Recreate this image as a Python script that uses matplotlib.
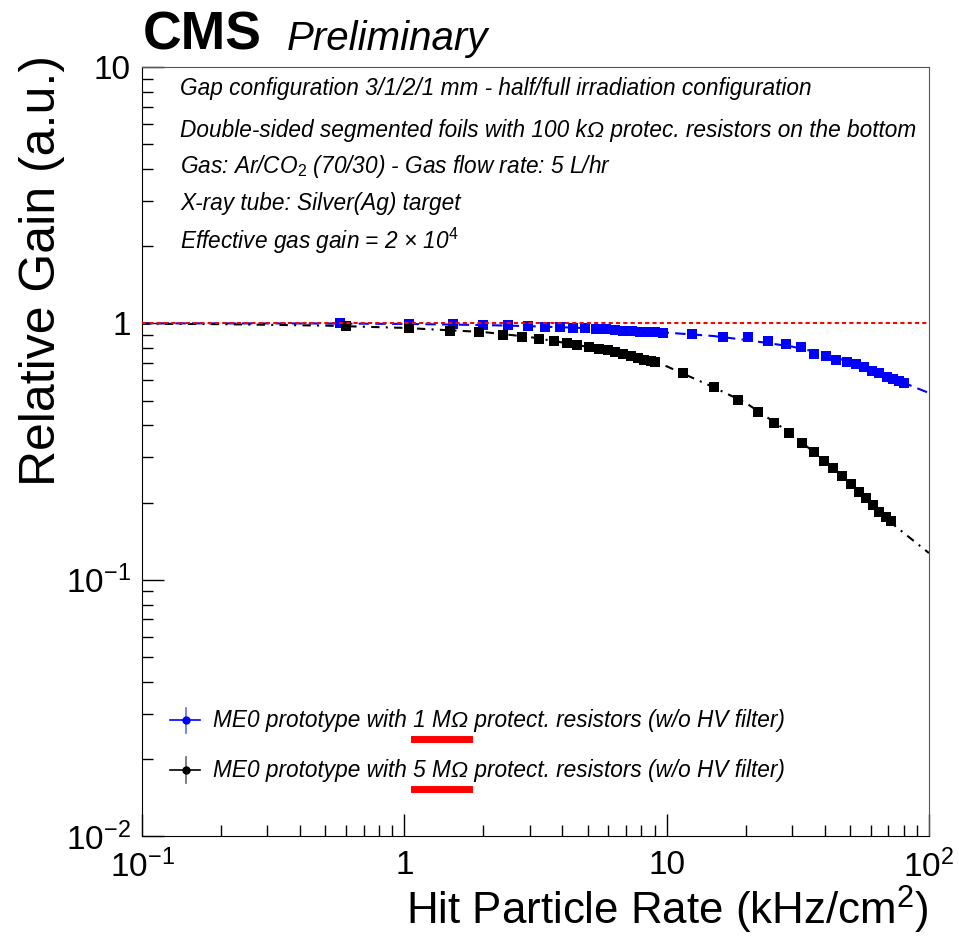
import numpy as np
import matplotlib
matplotlib.use("Agg")
import matplotlib.pyplot as plt
from matplotlib.text import Text

plt.rcParams['font.family'] = ['Liberation Sans', 'DejaVu Sans']
plt.rcParams['mathtext.fontset'] = 'custom'
plt.rcParams['mathtext.rm'] = 'Liberation Sans'
plt.rcParams['mathtext.it'] = 'Liberation Sans:italic'

# ---- data ----
# 1 MOhm protection resistors (blue)
rate_1m = [0.57, 1.04, 1.53, 2.0, 2.49, 2.96, 3.44, 3.92, 4.40, 4.89, 5.38, 5.87,
           6.36, 6.82, 7.38, 7.92, 8.49, 9.03, 9.69, 12.5, 16.4, 20.4, 24.4, 28.5,
           32.5, 36.5, 40.5, 44.3, 48.7, 52.7, 56.6, 60.7, 64.5, 69.2, 73.0, 76.9, 80.4]
gain_1m = [1.0, 0.997, 0.994, 0.985, 0.985, 0.976, 0.972, 0.967, 0.963, 0.958, 0.954, 0.950,
           0.942, 0.933, 0.933, 0.925, 0.925, 0.925, 0.921, 0.908, 0.885, 0.882, 0.853, 0.829,
           0.808, 0.759, 0.746, 0.719, 0.706, 0.694, 0.675, 0.651, 0.640, 0.617, 0.606, 0.596, 0.585]

# 5 MOhm protection resistors (black)
rate_5m = [0.60, 1.04, 1.49, 1.93, 2.38, 2.81, 3.26, 3.72, 4.17, 4.55, 5.06, 5.52,
           5.98, 6.36, 6.82, 7.31, 7.78, 8.20, 8.73, 9.03, 11.55, 15.2, 18.7, 22.3,
           25.7, 29.3, 32.8, 36.5, 39.8, 43.1, 46.7, 50.5, 54.2, 57.6, 61.2, 64.5, 68.6, 71.7]
gain_5m = [0.976, 0.958, 0.933, 0.925, 0.90, 0.886, 0.869, 0.853, 0.838, 0.823, 0.808, 0.794,
           0.787, 0.773, 0.759, 0.746, 0.732, 0.719, 0.713, 0.706, 0.640, 0.564, 0.502, 0.451,
           0.408, 0.373, 0.341, 0.315, 0.290, 0.272, 0.254, 0.236, 0.220, 0.208, 0.195, 0.184, 0.175, 0.169]

# fitted curves
fit_rate = [0.1, 0.2, 0.5, 1, 2, 3, 5, 7, 10, 15, 20, 30, 40, 50, 70, 100]
fit_1m = [1.0, 1.0, 0.999, 0.995, 0.985, 0.975, 0.958, 0.94, 0.92, 0.893, 0.862, 0.812,
          0.76, 0.705, 0.62, 0.535]
fit_5m = [0.997, 0.993, 0.98, 0.96, 0.925, 0.885, 0.81, 0.755, 0.68, 0.565, 0.49, 0.37,
          0.29, 0.237, 0.17, 0.127]

info_lines = [
    "Gap configuration 3/1/2/1 mm - half/full irradiation configuration",
    "Double-sided segmented foils with 100 k\u03a9 protec. resistors on the bottom",
    "Gas: Ar/CO$_{2}$ (70/30) - Gas flow rate: 5 L/hr",
    "X-ray tube: Silver(Ag) target",
    "Effective gas gain = 2 \u00d7 10$^{4}$",
]
leg_parts = [("ME0 prototype with ", "1 M\u03a9", " protect. resistors (w/o HV filter)"),
             ("ME0 prototype with ", "5 M\u03a9", " protect. resistors (w/o HV filter)")]
leg_colors = ['#0000ff', 'black']

FS_TXT = 16.3

fig = plt.figure(figsize=(9.59, 9.39), dpi=100)
ax = fig.add_axes([0.1481, 0.1097, 0.8206, 0.8189])
ax.set_xscale('log')
ax.set_yscale('log')
ax.set_xlim(0.1, 100)
ax.set_ylim(0.01, 10)

# fits
ax.plot(fit_rate, fit_1m, color='#0000ff', lw=1.5, ls=(0, (5, 3)), zorder=2)
ax.plot(fit_rate, fit_5m, color='black', lw=1.5, ls=(0, (4, 3, 1, 3)), zorder=2)
# points
ax.plot(rate_1m, gain_1m, 's', color='#0000ff', ms=7.5, mew=0, zorder=3)
ax.plot(rate_5m, gain_5m, 's', color='black', ms=7.5, mew=0, zorder=3)
# reference line
ax.axhline(1.0, color='red', lw=1.5, ls=(0, (2, 1.5)), zorder=4)

# ticks, ROOT-like
ax.tick_params(which='major', direction='in', length=16, width=1, labelsize=24)
ax.tick_params(axis='x', which='major', pad=10)
ax.tick_params(axis='y', which='major', pad=8)
ax.tick_params(which='minor', direction='in', length=8, width=1)
ax.tick_params(top=False, right=False, which='both')
ax.set_xticks([0.1, 1, 10, 100])
ax.set_xticklabels(["$10^{-1}$", "1", "10", "$10^{2}$"])
ax.set_yticks([0.01, 0.1, 1, 10])
ax.set_yticklabels(["$10^{-2}$", "$10^{-1}$", "1", "10"])
for s in ['right', 'top']:
    ax.spines[s].set_color('#555555')

ax.set_xlabel("Hit Particle Rate (kHz/cm$^{2}$)", fontsize=31.6, loc='right', labelpad=0)
ax.set_ylabel("Relative Gain (a.u.)", fontsize=36, loc='top')
ax.yaxis.set_label_coords(-0.098, 1.016)

# CMS label
fig.text(0.149, 0.947, "CMS", fontsize=38.5, fontweight='bold', va='baseline')
fig.text(0.299, 0.947, "Preliminary", fontsize=29, style='italic', va='baseline')

# info text
info_y = [0.9727, 0.918, 0.871, 0.822, 0.774]
for s, yy in zip(info_lines, info_y):
    ax.text(0.0483, yy, s, transform=ax.transAxes, fontsize=FS_TXT, style='italic',
            va='center', ha='left')

# legend, drawn by hand
leg_y = [0.1508, 0.0858]
fig.canvas.draw()
renderer = fig.canvas.get_renderer()
for parts, c, yy in zip(leg_parts, leg_colors, leg_y):
    ax.plot([0.0356, 0.0737], [yy, yy], color=c, lw=1.2, transform=ax.transAxes, clip_on=False)
    ax.plot([0.0559, 0.0559], [yy - 0.0163, yy + 0.0163], color=c, lw=1.2, alpha=0.6,
            transform=ax.transAxes, clip_on=False)
    ax.plot([0.0559], [yy], 'o', color=c, ms=5, transform=ax.transAxes, clip_on=False)
    full = "".join(parts)
    t = ax.text(0.0902, yy, full, transform=ax.transAxes, fontsize=FS_TXT, style='italic',
                va='center', ha='left')
    # measure where the resistor value sits, to underline it
    x0_disp, y0_disp = ax.transAxes.transform((0.0902, yy))
    w_pre = Text(text=parts[0], fontsize=FS_TXT, style='italic', figure=fig).get_window_extent(renderer).width
    w_mid = Text(text=parts[0] + parts[1], fontsize=FS_TXT, style='italic', figure=fig).get_window_extent(renderer).width
    xa, ya = fig.transFigure.inverted().transform((x0_disp + w_pre + 1, y0_disp - 19))
    xb, _ = fig.transFigure.inverted().transform((x0_disp + w_mid + 1, y0_disp - 19))
    fig.add_artist(plt.Line2D([xa, xb], [ya, ya], color='red', lw=5, transform=fig.transFigure))

fig.savefig("out.png", dpi=100)
